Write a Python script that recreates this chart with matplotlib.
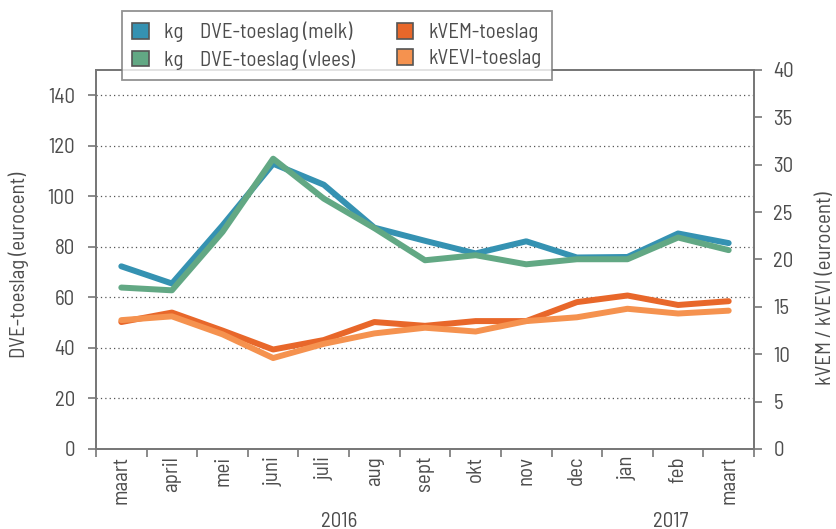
import numpy as np
import matplotlib
matplotlib.use('Agg')
import matplotlib.pyplot as plt
from matplotlib.patches import Patch

plt.rcParams['font.family'] = ['Barlow Semi Condensed', 'DejaVu Sans']

# data
months = ['maart', 'april', 'mei', 'juni', 'juli', 'aug', 'sept', 'okt',
          'nov', 'dec', 'jan', 'feb', 'maart']
dve_melk = [72.3, 65.5, 88.5, 112.9, 104.6, 87.6, 82.4, 77.4, 82.2, 75.8, 76.0, 85.3, 81.5]
dve_vlees = [63.9, 62.8, 85.9, 114.9, 99.1, 87.4, 74.7, 76.7, 73.1, 75.1, 75.1, 83.7, 78.7]
kvem = [13.4, 14.4, 12.5, 10.5, 11.5, 13.4, 13.0, 13.5, 13.5, 15.5, 16.2, 15.2, 15.6]
kvevi = [13.6, 14.0, 12.1, 9.6, 11.1, 12.2, 12.8, 12.4, 13.5, 13.9, 14.8, 14.3, 14.6]
years = ['2016', '2017']

blue = '#3592b2'
green = '#62a884'
dorange = '#e8672a'
lorange = '#f5924f'
grey = '#777777'
txt = '#4d4d4d'
fs = 15

x = np.arange(len(months))

fig = plt.figure(figsize=(8.37, 5.29), dpi=100)
ax = fig.add_axes([96/837, 1-449/529, (754-96)/837, (449-70)/529])
ax2 = ax.twinx()

ax.plot(x, dve_melk, color=blue, lw=4.3, solid_capstyle='round', zorder=3)
ax.plot(x, dve_vlees, color=green, lw=4.3, solid_capstyle='round', zorder=4)
ax2.plot(x, kvem, color=dorange, lw=4.3, solid_capstyle='round', zorder=3)
ax2.plot(x, kvevi, color=lorange, lw=4.3, solid_capstyle='round', zorder=4)

ax.set_xlim(-0.5, len(months) - 0.5)
ax.set_ylim(0, 150)
ax2.set_ylim(0, 40)
ax.set_yticks(np.arange(0, 141, 20))
ax2.set_yticks(np.arange(0, 41, 5))
ax.grid(True, axis='y', linestyle=(0, (1, 2.5)), color='#555555', linewidth=0.9)

ax.set_xticks(x)
ax.set_xticklabels(months, rotation=90)
ax.set_xticks(np.arange(-0.5, len(months), 1), minor=True)
ax.tick_params(axis='x', which='major', length=0, pad=5)
ax.tick_params(axis='x', which='minor', length=6, width=1.2, color=grey, direction='out')
ax.tick_params(axis='y', length=6, width=1.2, color=grey, direction='out', pad=9)
ax2.tick_params(axis='y', length=6, width=1.2, color=grey, direction='out', pad=8)
for a in (ax, ax2):
    a.tick_params(labelsize=fs, labelcolor=txt)
    for s in a.spines.values():
        s.set_color(grey)
        s.set_linewidth(1.3)

ax.set_ylabel('DVE-toeslag (eurocent)', fontsize=fs, color=txt)
ax.yaxis.set_label_coords(-0.102, 0.486)
ax2.set_ylabel('kVEM / kVEVI (eurocent)', fontsize=fs, color=txt)
ax2.yaxis.set_label_coords(1.094, 0.425)

ax.text(4.3, -0.19, years[0], transform=ax.get_xaxis_transform(),
        ha='center', va='center', fontsize=fs, color=txt)
ax.text(10.85, -0.19, years[1], transform=ax.get_xaxis_transform(),
        ha='center', va='center', fontsize=fs, color=txt)

handles = [Patch(facecolor=blue, edgecolor='#555555', lw=1.2),
           Patch(facecolor=green, edgecolor='#555555', lw=1.2),
           Patch(facecolor=dorange, edgecolor='#555555', lw=1.2),
           Patch(facecolor=lorange, edgecolor='#555555', lw=1.2)]
labels = ['kg    DVE-toeslag (melk)', 'kg    DVE-toeslag (vlees)', 'kVEM-toeslag', 'kVEVI-toeslag']
leg = fig.legend(handles, labels, ncol=2, loc='upper left',
                 bbox_to_anchor=(122/837, 1-11/529), borderaxespad=0, fontsize=fs,
                 frameon=True, fancybox=False, handlelength=0.78, handleheight=0.78,
                 columnspacing=2.0, labelspacing=0.35, borderpad=0.5, handletextpad=0.75)
leg.get_frame().set_edgecolor(grey)
leg.get_frame().set_linewidth(1.3)
for t in leg.get_texts():
    t.set_color(txt)

fig.savefig('out.png', dpi=100)
